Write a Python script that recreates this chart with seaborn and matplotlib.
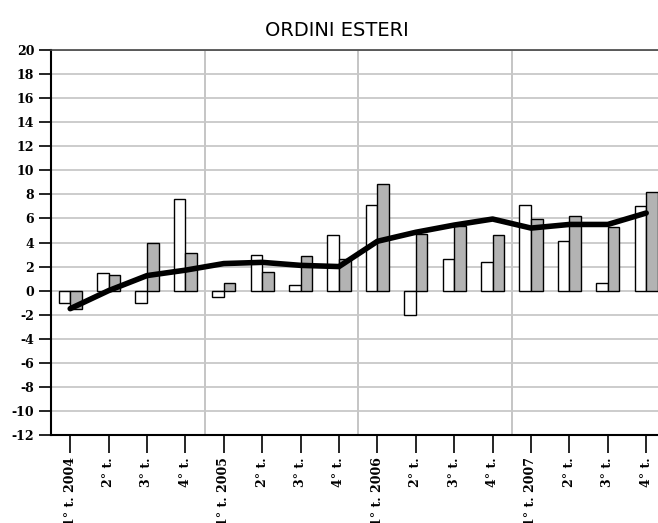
import matplotlib

matplotlib.use("Agg")
import matplotlib.pyplot as plt
import numpy as np
import pandas as pd
import seaborn as sns

quarters = [
    "1° t. 2004", "2° t.", "3° t.", "4° t.",
    "1° t. 2005", "2° t.", "3° t.", "4° t.",
    "1° t. 2006", "2° t.", "3° t.", "4° t.",
    "1° t. 2007", "2° t.", "3° t.", "4° t.",
]
white_values = [-1.0, 1.5, -1.0, 7.6, -0.5, 3.0, 0.45, 4.6,
                7.1, -2.05, 2.6, 2.35, 7.1, 4.15, 0.65, 7.0]
gray_values = [-1.5, 1.3, 4.0, 3.1, 0.6, 1.55, 2.9, 2.65,
               8.9, 4.7, 5.35, 4.6, 5.95, 6.2, 5.3, 8.2]
line_values = [-1.5, 0.0, 1.25, 1.7, 2.25, 2.35, 2.1, 2.0,
               4.1, 4.85, 5.45, 5.95, 5.2, 5.5, 5.5, 6.45]
series_names = ["a", "b"]
year_breaks = [3.5, 7.5, 11.5]

keys = [f"q{i}" for i in range(len(quarters))]
df = pd.DataFrame({
    "key": keys * 2,
    "value": white_values + gray_values,
    "series": [series_names[0]] * len(keys) + [series_names[1]] * len(keys),
})

sns.set_style("white")
plt.rcParams["axes.unicode_minus"] = False
fig = plt.figure(figsize=(6.58, 5.23), dpi=100)
ax = fig.add_axes([51 / 658, 88 / 523, 614.4 / 658, 385 / 523])

ax.set_axisbelow(True)
ax.yaxis.grid(True, color="#c8c8c8", linewidth=1.3)
for xb in year_breaks:
    ax.axvline(xb, color="#c0c0c0", linewidth=1.3, zorder=0.5)

sns.barplot(data=df, x="key", y="value", hue="series", order=keys,
            hue_order=series_names, palette=["white", "#b3b3b3"],
            width=0.6, gap=0, edgecolor="black", linewidth=1.0,
            legend=False, ax=ax, zorder=2)
sns.lineplot(x=np.arange(len(quarters)), y=line_values, color="black",
             linewidth=4.0, ax=ax, zorder=3)

ax.set_xlim(-0.5, len(quarters) - 0.5)
ax.set_ylim(-12, 20)
ax.set_yticks(range(-12, 21, 2))
ax.set_xticks(range(len(quarters)))
ax.set_xticklabels(quarters, rotation=90, va="top", ha="center")
ax.set_xlabel("")
ax.set_ylabel("")

# the long labels run off the bottom edge, as in the original
for lab in ax.get_xticklabels() + ax.get_yticklabels():
    lab.set_fontfamily("DejaVu Serif")
    lab.set_fontweight("bold")
    lab.set_fontsize(9)
    lab.set_color("black")

ax.tick_params(axis="y", length=9, width=1.2, color="black", direction="out", left=True, pad=3)
ax.tick_params(axis="x", length=13, width=1.2, color="black", direction="out", bottom=True, pad=3)
for side in ["left", "bottom"]:
    ax.spines[side].set_color("black")
    ax.spines[side].set_linewidth(1.5)
for side in ["top", "right"]:
    ax.spines[side].set_color("#444444")
    ax.spines[side].set_linewidth(1.2)

fig.text(337 / 658, 1 - 30 / 523, "ORDINI ESTERI", ha="center", va="center",
         fontsize=14, fontfamily="DejaVu Sans", color="black")

fig.savefig("out.png", dpi=100)
